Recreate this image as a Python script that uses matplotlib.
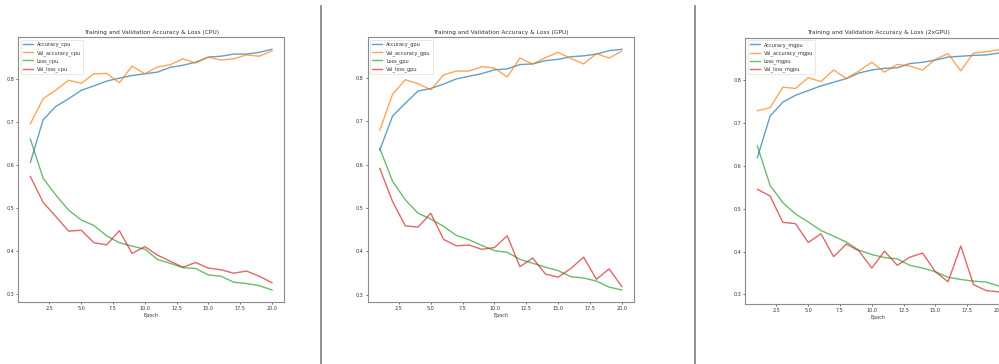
import matplotlib
matplotlib.use("Agg")
import matplotlib.pyplot as plt
from matplotlib.lines import Line2D

epochs = list(range(1, 21))

acc_cpu = [0.606, 0.705, 0.736, 0.754, 0.7735, 0.784, 0.795, 0.802, 0.808, 0.812,
           0.816, 0.827, 0.832, 0.839, 0.851, 0.853, 0.858, 0.858, 0.862, 0.869]
val_acc_cpu = [0.696, 0.754, 0.774, 0.797, 0.790, 0.812, 0.813, 0.791, 0.830, 0.812,
               0.828, 0.833, 0.847, 0.837, 0.851, 0.844, 0.847, 0.856, 0.853, 0.865]
loss_cpu = [0.660, 0.569, 0.530, 0.495, 0.472, 0.459, 0.435, 0.419, 0.411, 0.404,
            0.380, 0.371, 0.361, 0.359, 0.344, 0.341, 0.327, 0.324, 0.319, 0.309]
val_loss_cpu = [0.573, 0.513, 0.480, 0.446, 0.448, 0.419, 0.414, 0.447, 0.394, 0.410,
                0.390, 0.376, 0.362, 0.373, 0.360, 0.356, 0.348, 0.353, 0.341, 0.326]

acc_gpu = [0.633, 0.7115, 0.741, 0.769, 0.775, 0.785, 0.797, 0.803, 0.809, 0.818,
           0.820, 0.830, 0.8315, 0.839, 0.842, 0.848, 0.850, 0.854, 0.862, 0.865]
val_acc_gpu = [0.679, 0.7615, 0.795, 0.786, 0.772, 0.806, 0.815, 0.815, 0.825, 0.822,
               0.8015, 0.845, 0.831, 0.846, 0.858, 0.844, 0.8315, 0.855, 0.845, 0.861]
loss_gpu = [0.637, 0.5615, 0.519, 0.488, 0.4745, 0.458, 0.437, 0.427, 0.414, 0.402,
            0.398, 0.382, 0.373, 0.364, 0.356, 0.342, 0.339, 0.332, 0.318, 0.3115]
val_loss_gpu = [0.591, 0.515, 0.459, 0.456, 0.488, 0.428, 0.413, 0.415, 0.405, 0.409,
                0.436, 0.365, 0.385, 0.348, 0.341, 0.361, 0.387, 0.336, 0.360, 0.319]

acc_mgpu = [0.619, 0.7155, 0.748, 0.764, 0.775, 0.786, 0.7945, 0.803, 0.816, 0.823,
            0.827, 0.828, 0.838, 0.841, 0.846, 0.853, 0.855, 0.857, 0.858, 0.8625]
val_acc_mgpu = [0.728, 0.735, 0.783, 0.780, 0.805, 0.796, 0.823, 0.803, 0.821, 0.841,
                0.818, 0.836, 0.832, 0.823, 0.848, 0.861, 0.821, 0.8625, 0.8655, 0.870]
loss_mgpu = [0.646, 0.554, 0.514, 0.4875, 0.469, 0.449, 0.436, 0.422, 0.403, 0.393,
             0.386, 0.383, 0.368, 0.3615, 0.353, 0.340, 0.335, 0.331, 0.329, 0.3195]
val_loss_mgpu = [0.545, 0.5295, 0.468, 0.465, 0.421, 0.4415, 0.388, 0.4175, 0.401, 0.3615,
                 0.401, 0.368, 0.387, 0.3965, 0.353, 0.3295, 0.413, 0.323, 0.309, 0.306]

panels = [
    ("CPU", "cpu", acc_cpu, val_acc_cpu, loss_cpu, val_loss_cpu),
    ("GPU", "gpu", acc_gpu, val_acc_gpu, loss_gpu, val_loss_gpu),
    ("2xGPU", "mgpu", acc_mgpu, val_acc_mgpu, loss_mgpu, val_loss_mgpu),
]

W, H = 999, 364
fig = plt.figure(figsize=(W / 100, H / 100), dpi=100)

# axes boxes in pixels: left, top, right, bottom
boxes = [(18.3, 37.3, 284.0, 302.0),
         (367.7, 37.3, 634.0, 302.0),
         (745.3, 37.7, 1011.0, 304.0)]

txt = "#333333"
fs_tick = 3.5
fs_leg = 3.6
colors = ["#1f77b4", "#ff7f0e", "#2ca02c", "#d62728"]

for (name, suf, a, va, l, vl), (x0, y0, x1, y1) in zip(panels, boxes):
    ax = fig.add_axes([x0 / W, 1 - y1 / H, (x1 - x0) / W, (y1 - y0) / H])
    series = [(a, f"Accuracy_{suf}"), (va, f"Val_accuracy_{suf}"),
              (l, f"Loss_{suf}"), (vl, f"Val_loss_{suf}")]
    for (vals, lab), c in zip(series, colors):
        ax.plot(epochs, vals, color=c, lw=1.0, alpha=0.7, label=lab)
    ax.set_title(f"Training and Validation Accuracy & Loss ({name})",
                 fontsize=4.2, color=txt, pad=2.5)
    ax.set_xlabel("Epoch", fontsize=fs_tick, color=txt, labelpad=1.4)
    ax.set_yticks([0.3, 0.4, 0.5, 0.6, 0.7, 0.8])
    ax.tick_params(labelsize=fs_tick, colors=txt, length=1.4, width=0.5, pad=1.4)
    for sp in ax.spines.values():
        sp.set_color("#8c8c8c")
        sp.set_linewidth(0.8)
    leg = ax.legend(loc="upper left", fontsize=fs_leg, frameon=True,
                    borderpad=0.4, handlelength=2.0, labelspacing=0.5)
    leg.get_frame().set_linewidth(0.4)
    for t in leg.get_texts():
        t.set_color(txt)

for xs, ytop in [(321.3, 6.0), (695.0, 5.7)]:
    fig.add_artist(Line2D([xs / W, xs / W], [0, 1 - ytop / H],
                          transform=fig.transFigure, color="#8a8a8a", lw=1.3))

fig.savefig("out.png", dpi=100)
